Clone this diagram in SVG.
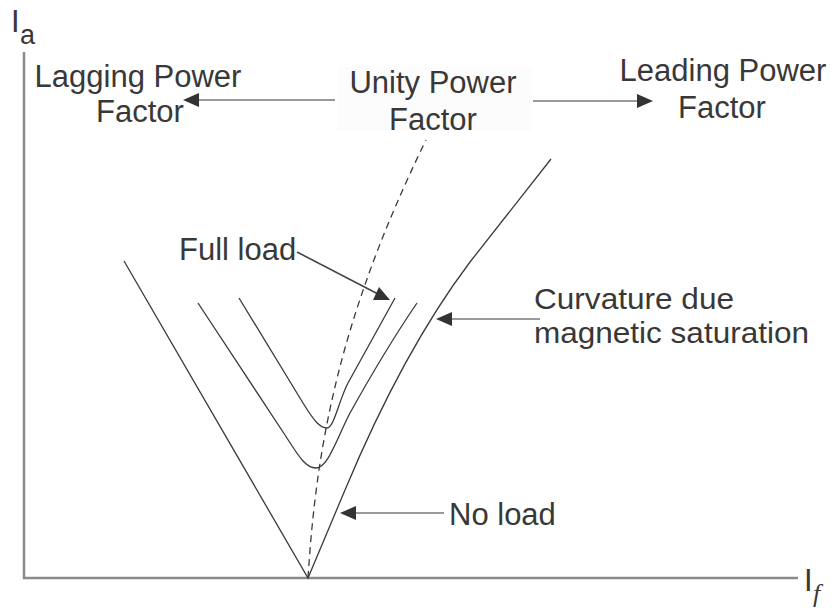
<svg xmlns="http://www.w3.org/2000/svg" width="835" height="614" viewBox="0 0 835 614">
  <style>
    .lbl { font-family: "Liberation Sans", Arial, sans-serif; font-size: 31px; fill: #383838; }
    .axis { stroke: #8a8a8a; stroke-width: 2.5; fill: none; }
    .curve { stroke: #3a3a3a; stroke-width: 1.3; fill: none; }
    .upf { stroke: #3a3a3a; stroke-width: 1.3; fill: none; stroke-dasharray: 7 5; }
    .ptr { stroke: #9a9a9a; stroke-width: 2.2; fill: none; }
    .ptr-dark { stroke: #444; stroke-width: 1.6; fill: none; }
    .head { fill: #333; }
  </style>

  <rect width="835" height="614" fill="#ffffff"/>

  <!-- axes -->
  <g id="axes">
    <line class="axis" x1="24" y1="52" x2="24" y2="579"/>
    <line class="axis" x1="23" y1="578" x2="798" y2="578"/>
    <text class="lbl" x="11" y="32">I</text>
    <text class="lbl" x="20" y="44" style="font-size:27px">a</text>
    <text class="lbl" x="804" y="591">I</text>
    <text x="813" y="602" style="font-family:'Liberation Serif','Times New Roman',serif;font-style:italic;font-size:26px;fill:#383838">f</text>
  </g>

  <!-- V-curves -->
  <g id="no-load">
    <path class="curve" d="M124,261 L308,578 L345,490 Q403,351 470,262 L551,159"/>
  </g>
  <g id="half-load">
    <path class="curve" d="M198,303 L285,435 C298,455 305,468 316,468 C328,468 337,438 350,413 Q385,350 417,303"/>
  </g>
  <g id="full-load">
    <path class="curve" d="M239,298 L303,403 C314,421 320,428 327,428 C334,428 339,400 348,383 L395,298"/>
  </g>
  <g id="unity-pf-locus">
    <path class="upf" d="M308,578 C316,450 338,320 426,140"/>
  </g>

  <!-- labels -->
  <g id="lagging">
    <text class="lbl" x="138" y="87" text-anchor="middle">Lagging Power</text>
    <text class="lbl" x="140" y="122" text-anchor="middle">Factor</text>
  </g>
  <g id="unity">
    <rect x="338" y="67" width="194" height="63" fill="#fcfcfc"/>
    <text class="lbl" x="433" y="93" text-anchor="middle">Unity Power</text>
    <text class="lbl" x="433" y="130" text-anchor="middle">Factor</text>
  </g>
  <g id="leading">
    <text class="lbl" x="723" y="81" text-anchor="middle">Leading Power</text>
    <text class="lbl" x="722" y="118" text-anchor="middle">Factor</text>
  </g>
  <g id="full-load-label">
    <text class="lbl" x="179" y="260">Full load</text>
  </g>
  <g id="saturation-label">
    <text class="lbl" x="534" y="309" style="font-size:30px" textLength="200" lengthAdjust="spacingAndGlyphs">Curvature due</text>
    <text class="lbl" x="534" y="343" style="font-size:30px" textLength="275" lengthAdjust="spacingAndGlyphs">magnetic saturation</text>
  </g>
  <g id="no-load-label">
    <text class="lbl" x="449" y="525">No load</text>
  </g>

  <!-- pointers -->
  <g id="connectors">
    <line class="ptr" x1="335" y1="100" x2="197" y2="100"/>
    <polygon class="head" points="183,100 199,93 199,107"/>

    <line class="ptr" x1="533" y1="101" x2="638" y2="101"/>
    <polygon class="head" points="653,101 637,94 637,108"/>

    <line class="ptr-dark" x1="297" y1="252" x2="378" y2="294"/>
    <polygon class="head" points="390,300 373,300 379,287"/>

    <line class="ptr" x1="540" y1="319" x2="450" y2="319"/>
    <polygon class="head" points="436,319 452,312 452,326"/>

    <line class="ptr" x1="444" y1="513" x2="354" y2="513"/>
    <polygon class="head" points="340,513 356,506 356,520"/>
  </g>
</svg>
